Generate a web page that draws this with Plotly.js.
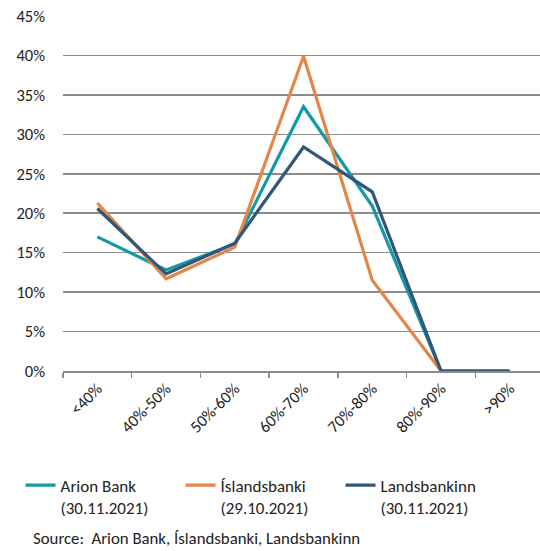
<!DOCTYPE html>
<html>
<head>
<meta charset="utf-8">
<script src="https://cdn.plot.ly/plotly-3.0.1.min.js"></script>
<style>html,body{margin:0;padding:0;background:#fff;}#chart{width:540px;height:551px;}</style>
</head>
<body>
<div id="chart"></div>
<script>
const categories = ["<40%", "40%-50%", "50%-60%", "60%-70%", "70%-80%", "80%-90%", ">90%"];
const arionValues = [17.0, 12.8, 16.1, 33.5, 20.9, 0, 0];
const islandsbankiValues = [21.3, 11.7, 15.7, 39.9, 11.5, 0, 0];
const landsbankinnValues = [20.6, 12.3, 16.2, 28.4, 22.7, 0, 0];
const seriesNames = ["Arion Bank<br>(30.11.2021)", "Íslandsbanki<br>(29.10.2021)", "Landsbankinn<br>(30.11.2021)"];
const yTicks = [0, 5, 10, 15, 20, 25, 30, 35, 40, 45];
const yTickLabels = ["0%", "5%", "10%", "15%", "20%", "25%", "30%", "35%", "40%", "45%"];
const sourceText = "Source:  Arion Bank, Íslandsbanki, Landsbankinn";

const FONT = "Carlito, Calibri, Lato, 'Noto Sans', sans-serif";
const colors = ["#1499a6", "#e2864a", "#32557a"];
const allValues = [arionValues, islandsbankiValues, landsbankinnValues];

const traces = allValues.map((v, i) => ({
  x: categories, y: v, type: "scatter", mode: "lines",
  name: seriesNames[i],
  line: {color: colors[i], width: 3.2}
}));

const layout = {
  width: 540, height: 551,
  margin: {l: 63, r: 0, t: 16, b: 180},
  paper_bgcolor: "#ffffff", plot_bgcolor: "#ffffff",
  font: {family: FONT, size: 16, color: "#222"},
  showlegend: true,
  legend: {
    orientation: "h", x: -0.089, xanchor: "left", y: -0.272, yanchor: "top",
    font: {family: FONT, size: 17, color: "#222"},
    entrywidth: 115, valign: "top", tracegroupgap: 0,
    itemwidth: 30
  },
  xaxis: {
    type: "category", range: [-0.5, 6.44],
    showgrid: false, zeroline: false,
    showline: true, linecolor: "#8c8c8c", linewidth: 1.5,
    ticks: "outside", tickson: "boundaries", ticklen: 5, tickcolor: "#8c8c8c", tickwidth: 1.5,
    tickangle: -45, tickfont: {family: FONT, size: 16.5, color: "#222"},
    fixedrange: true
  },
  yaxis: {
    range: [0, 45], tickvals: yTicks, ticktext: yTickLabels,
    showgrid: true, gridcolor: "#8c8c8c", gridwidth: 1.5,
    zeroline: false, showline: false, ticks: "",
    ticklabelstandoff: 17,
    tickfont: {family: FONT, size: 16.5, color: "#222"},
    fixedrange: true
  },
  annotations: [{
    text: sourceText, xref: "paper", yref: "paper",
    x: (31 - 63) / 477, y: -(538 - 371) / 355, xanchor: "left", yanchor: "middle",
    showarrow: false, font: {family: FONT, size: 16.8, color: "#222"}
  }]
};

Plotly.newPlot("chart", traces, layout, {displayModeBar: false, staticPlot: true});
</script>
</body>
</html>
